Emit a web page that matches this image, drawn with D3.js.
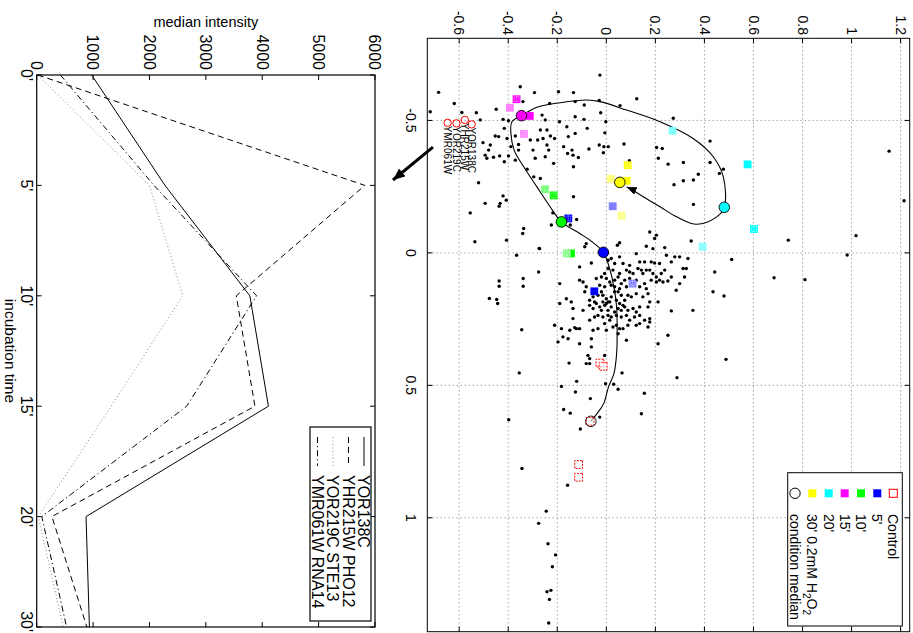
<!DOCTYPE html>
<html><head><meta charset="utf-8">
<script src="https://cdn.jsdelivr.net/npm/d3@7"></script>
<style>
body{margin:0;background:#fff;}
svg{display:block;font-family:"Liberation Sans",Arial,Helvetica,sans-serif;}
</style></head><body>
<svg id="fig" width="913" height="633"></svg>
<script>
// ---------- time-course panel ----------
const timeLabels = ["0'", "5'", "10'", "15'", "20'", "30'"];
const intensityTicks = [0, 1000, 2000, 3000, 4000, 5000, 6000];
const geneNames = ["YOR138C", "YHR215W PHO12", "YOR219C STE13", "YMR061W RNA14"];
const yor138c = [975, 2275, 3780, 4110, 875, 935];
const yhr215w = [20, 5820, 3540, 3870, 270, 890];
const yor219c = [20, 2000, 2590, 1320, 30, 470];
const ymr061w = [420, 2080, 3900, 2660, 90, 530];

// ---------- expression-space panel ----------
const scatterXTicks = [-0.5, 0, 0.5, 1];
const scatterYTicks = [-0.6, -0.4, -0.2, 0, 0.2, 0.4, 0.6, 0.8, 1, 1.2];
const conditionNames = ["Control", "5'", "10'", "15'", "20'", "30' 0.2mM H"];
const conditionColors = ["#ff0000", "#0000ff", "#00ff00", "#ff00ff", "#00ffff", "#ffff00"];
const medianX = [0.636, -0.002, -0.117, -0.518, -0.172, -0.266];
const medianY = [-0.063, -0.012, -0.183, -0.346, 0.481, 0.055];

// trajectory of the condition medians over time (Control -> 30')
const trajectoryX = [0.636, 0.607, 0.569, 0.506, 0.456, 0.380, 0.292, 0.204, 0.128, 0.065, -0.002,
  -0.048, -0.073, -0.117, -0.174, -0.249, -0.325, -0.388, -0.451, -0.495, -0.518,
  -0.550, -0.567, -0.577, -0.571, -0.539, -0.495, -0.432, -0.363, -0.287, -0.172,
  -0.136, -0.108, -0.136, -0.174, -0.212, -0.243, -0.249];
const trajectoryY = [-0.064, -0.038, -0.011, 0.009, 0.031, 0.042, 0.044, 0.042, 0.031, 0.015, -0.012,
  -0.067, -0.108, -0.183, -0.229, -0.283, -0.337, -0.376, -0.389, -0.385, -0.346,
  -0.283, -0.188, -0.080, -0.026, 0.083, 0.219, 0.354, 0.436, 0.477, 0.481,
  0.450, 0.368, 0.287, 0.219, 0.150, 0.096, 0.083];

// gene squares for each treated condition (gene order YOR138C, YHR215W, YOR219C, YMR061W)
const squareX = [
  [0.145, -0.130, -0.176, 0.116],
  [0.002, -0.217, -0.240, 0.002],
  [-0.517, -0.580, -0.548, -0.449],
  [-0.334, -0.090, -0.461, -0.023],
  [-0.272, -0.331, -0.279, -0.140]
];
const squareY = [
  [-0.049, -0.155, 0.026, 0.107],
  [-0.144, -0.215, -0.250, -0.161],
  [-0.312, -0.366, -0.393, -0.336],
  [0.576, 0.602, 0.270, 0.393],
  [0.083, 0.087, 0.018, 0.062]
];
const controlX = [0.416, 0.428, 0.636, 0.799, 0.847];
const controlY = [-0.026, -0.013, -0.066, -0.113, -0.113];

// highlighted genes
const highlightNames = ["YOR138C", "YHR215W", "YOR219C", "YMR061W"];
const highlightX = [-0.485, -0.502, -0.489, -0.491];
const highlightY = [-0.549, -0.577, -0.611, -0.647];

// all genes
const geneDots = [
[-0.105,-0.224],[-0.035,-0.082],[-0.023,-0.088],[-0.029,0.045],[-0.038,0.054],[-0.025,0.163],[-0.079,0.177],[-0.054,0.197],[-0.016,0.190],[-0.067,0.204],[-0.020,0.238],[-0.045,0.346],[-0.016,-0.272],
[0.053,-0.109],[0.038,-0.061],[0.028,0.007],[0.021,0.020],[0.040,0.034],[0.015,0.054],[0.040,0.068],[0.047,0.095],[0.003,0.122],[0.034,0.136],[0.034,0.156],[0.065,0.163],[0.034,0.183],[0.038,0.197],[0.040,0.217],[0.009,0.245],[0.034,0.265],[0.015,0.279],[0.015,0.299],[0.059,0.313],[0.021,0.333],[0.072,0.442],[0.078,-0.007],[0.059,0.007],[0.065,0.027],[0.078,0.054],[0.065,0.082],[0.072,0.095],[0.078,0.109],[0.059,0.129],[0.065,0.143],[0.078,0.149],[0.065,0.177],[0.078,0.190],[0.091,0.204],[0.078,0.224],[0.065,0.238],
[0.103,-0.109],[0.110,-0.095],[0.097,-0.041],[0.091,-0.020],[0.097,0.000],[0.110,0.014],[0.103,0.034],[0.091,0.048],[0.116,0.061],[0.103,0.075],[0.097,0.095],[0.103,0.122],[0.128,0.136],[0.116,0.156],[0.135,0.163],[0.103,0.183],[0.110,0.204],[0.103,0.217],[0.110,0.231],[0.106,0.251],[0.091,0.265],[0.141,0.285],[0.116,0.299],[0.091,0.319],[0.059,0.326],[0.116,-0.190],[0.128,-0.082],[0.122,-0.027],[0.128,-0.007],[0.122,0.020],[0.128,0.034],[0.135,0.054],[0.128,0.082],[0.122,0.109],
[0.147,-0.088],[0.179,-0.068],[0.166,-0.054],[0.160,-0.034],[0.147,-0.020],[0.160,-0.014],[0.173,0.000],[0.185,0.007],[0.166,0.020],[0.147,0.034],[0.147,0.048],[0.160,0.061],[0.179,0.075],[0.160,0.088],[0.166,0.102],[0.154,0.122],[0.166,0.149],[0.154,0.170],[0.185,0.177],[0.173,-0.163],[0.185,-0.143],[0.191,-0.190],[0.198,-0.068],[0.185,-0.048],[0.191,-0.041],[0.185,-0.014],[0.191,0.000],[0.185,0.014],[0.179,0.041],[0.191,0.054],[0.198,0.068],
[0.210,-0.136],[0.217,-0.095],[0.210,-0.054],[0.204,-0.027],[0.217,-0.020],[0.198,-0.007],[0.217,0.007],[0.204,0.020],[0.223,0.034],[0.210,0.048],[0.217,0.061],[0.204,0.075],[0.217,0.088],[0.210,0.109],[0.223,0.122],[0.204,0.136],[0.204,0.170],[0.185,0.211],[0.219,0.265],[0.217,0.353],[0.147,0.435],[0.248,-0.136],[0.242,-0.048],[0.236,-0.034],[0.242,-0.014],[0.236,0.007],[0.254,0.014],[0.242,0.020],[0.236,0.041],[0.242,0.061],[0.236,0.082],[0.254,0.095],[0.242,0.115],[0.236,0.136],[0.254,0.156],[0.248,0.177],[0.261,0.177],
[0.273,-0.211],[0.286,-0.183],[0.292,-0.149],[0.282,-0.129],[0.286,-0.122],[0.286,-0.109],[0.254,-0.068],[0.292,-0.054],[0.286,-0.034],[0.267,-0.007],[0.292,0.000],[0.280,0.027],[0.273,0.041],[0.286,0.054],[0.286,0.068],[0.273,0.088],[0.273,0.122],[0.267,0.136],[0.280,0.170],[0.324,-0.156],[0.317,-0.177],[0.324,-0.061],[0.305,0.048],[0.330,0.082],
[0.343,-0.109],[0.355,-0.061],[0.343,0.211],[0.311,0.251],[0.336,-0.197],
[0.387,-0.075],[0.399,-0.068],[0.418,-0.082],[0.418,-0.068],[0.387,-0.007],[0.416,-0.152],
[0.453,-0.355],[0.471,0.288],[0.504,-0.183],[0.485,-0.121],[0.525,-0.126],[0.550,-0.065],[0.494,-0.003],[0.496,0.030],[0.515,0.048],[0.453,0.064],[0.530,0.155],[0.607,0.143],[0.591,-0.174],[0.605,-0.147],[0.620,-0.027],[0.665,-0.106],[0.630,-0.398],[0.814,-0.344],[0.877,-0.158],[0.975,-0.245],[1.021,-0.276],[1.098,-0.238],[1.140,-0.207],[1.185,-0.220],[1.279,-0.242],[1.274,-0.226],[1.308,-0.232],[1.397,-0.235],
[0.402,0.488],[0.290,-0.345],[0.094,0.684],[0.101,0.810],[0.008,0.982],[0.025,0.511],[0.163,0.480],
[-0.042,-0.536],[-0.048,-0.407],[0.009,-0.366],[-0.017,-0.274],[-0.073,-0.341],[0.106,-0.437],[0.126,-0.437],[0.172,-0.477],[0.176,-0.447],[0.191,-0.443],[0.072,-0.276],[0.097,-0.339],[0.126,-0.339],
[-0.606,-0.684],[-0.533,-0.718],[-0.564,-0.620],[-0.530,-0.589],[-0.529,-0.530],[-0.502,-0.514],[-0.542,-0.449],[-0.504,-0.421],[-0.265,-0.521],[-0.187,-0.494],[-0.151,-0.555],[-0.176,-0.437],[-0.187,-0.433],[-0.199,-0.408],[-0.215,-0.421],[-0.416,-0.503],[-0.388,-0.480],[-0.407,-0.473],[-0.369,-0.494],[-0.357,-0.487],[-0.361,-0.460],[-0.366,-0.435],[-0.344,-0.416],[-0.441,-0.453],[-0.439,-0.439],[-0.432,-0.405],[-0.470,-0.416],[-0.499,-0.399],[-0.401,-0.389],[-0.441,-0.371],[-0.409,-0.358],[-0.388,-0.358],[-0.350,-0.371],[-0.366,-0.399],[-0.627,-0.351],[-0.571,-0.340],[-0.426,-0.310],[-0.388,-0.299],[-0.357,-0.290],[-0.605,-0.293],[-0.426,-0.280],[-0.520,-0.262],[-0.464,-0.269],[-0.432,-0.258],[-0.502,-0.249],[-0.464,-0.242],[-0.407,-0.242],[-0.441,-0.228],[-0.388,-0.235],[-0.363,-0.249],[-0.432,-0.211],[-0.338,-0.215],[-0.281,-0.269],[-0.287,-0.296],[-0.316,-0.323],[-0.564,-0.231],[-0.608,-0.195],[-0.495,-0.191],[-0.476,-0.161],[-0.439,-0.155],[-0.401,-0.174],[-0.375,-0.158],[-0.605,-0.134],[-0.451,-0.127],[-0.388,-0.140],[-0.369,-0.136],[-0.325,-0.134],[-0.571,-0.127],[-0.514,-0.127],[-0.212,-0.134],[-0.151,-0.218],[-0.111,-0.188],[-0.130,-0.161],[-0.105,-0.147],[-0.092,-0.337],
[-0.671,-0.026],[-0.558,-0.090],[-0.575,-0.029],[-0.529,-0.023],[-0.556,0.056],[-0.582,0.124],[-0.495,-0.002],[-0.453,-0.006],[-0.411,0.072],[-0.401,-0.010],[-0.401,0.008],[-0.407,-0.029],[-0.378,-0.012],[-0.392,-0.071],[-0.360,-0.114],[-0.470,-0.078],[-0.504,-0.091],[-0.348,0.094],[-0.398,0.205],[-0.394,0.228],[-0.357,0.212],[-0.508,0.273],[-0.335,0.252],[-0.341,0.314],[-0.272,0.314],[-0.257,0.276],[-0.275,0.355],[-0.297,0.375],[-0.422,0.423],[-0.341,0.423],[-0.300,0.461],[-0.316,0.477],[-0.183,0.355],[-0.048,0.742],[-0.065,1.018],[-0.384,1.153],[-0.197,1.214],[-0.126,-0.121]
];

// pointer from the highlighted genes to the time-course panel (data units of the scatter)
const pointerFrom = [-0.399, -0.707];
const pointerTo = [-0.275, -0.870];

// ---------- helpers ----------
function fmtTick(v) { return String(v); }
function pale(c) { return d3.interpolateRgb(c, "#ffffff")(0.5); }

// ---------- figure (drawn upright, then turned a quarter clockwise) ----------
const svg = d3.select("#fig");
svg.append("rect").attr("width", 913).attr("height", 633).attr("fill", "#fff");
const defs = svg.append("defs");
defs.append("marker").attr("id", "headSmall").attr("viewBox", "0 0 10 8")
  .attr("refX", 10).attr("refY", 4).attr("markerWidth", 10).attr("markerHeight", 8)
  .attr("markerUnits", "userSpaceOnUse").attr("orient", "auto")
  .append("path").attr("d", "M0,0L10,4L0,8Z").attr("fill", "#000");
defs.append("marker").attr("id", "headBig").attr("viewBox", "0 0 12 10")
  .attr("refX", 12).attr("refY", 5).attr("markerWidth", 12).attr("markerHeight", 10)
  .attr("markerUnits", "userSpaceOnUse").attr("orient", "auto")
  .append("path").attr("d", "M0,0L12,5L0,10Z").attr("fill", "#000");

const fig = svg.append("g").attr("transform", "translate(913,0) rotate(90)");

// ===== scatter panel =====
const sp = {left: 38.3, right: 631.7, top: 3.3, bottom: 485.7};
const x = d3.scaleLinear().domain([-0.81, 1.43]).range([sp.left, sp.right]);
const y = d3.scaleLinear().domain([-0.73, 1.237]).range([sp.bottom, sp.top]);

defs.append("clipPath").attr("id", "spClip").append("rect")
  .attr("x", sp.left).attr("y", sp.top).attr("width", sp.right - sp.left).attr("height", sp.bottom - sp.top);

const sg = fig.append("g");
const grid = sg.append("g").attr("stroke", "#777").attr("stroke-width", 1).attr("stroke-dasharray", "1,3");
grid.selectAll(".gx").data(scatterXTicks).join("line")
  .attr("x1", d => x(d)).attr("x2", d => x(d)).attr("y1", sp.top).attr("y2", sp.bottom);
grid.selectAll(".gy").data(scatterYTicks).join("line")
  .attr("x1", sp.left).attr("x2", sp.right).attr("y1", d => y(d)).attr("y2", d => y(d));

const plot = sg.append("g").attr("clip-path", "url(#spClip)");
plot.append("g").selectAll("circle").data(geneDots).join("circle")
  .attr("cx", d => x(d[0])).attr("cy", d => y(d[1])).attr("r", 1.7).attr("fill", "#000");

// smooth path through the trajectory, arrow at 30'
const traj = trajectoryX.map((v, i) => [v, trajectoryY[i]]);
plot.append("path")
  .attr("d", d3.line().x(d => x(d[0])).y(d => y(d[1])).curve(d3.curveCatmullRom.alpha(0.5))(traj))
  .attr("fill", "none").attr("stroke", "#000").attr("stroke-width", 1.1).attr("marker-end", "url(#headSmall)");

// control squares
const sq = 7.8;
plot.append("g").selectAll("rect").data(d3.range(controlX.length)).join("rect")
  .attr("x", i => x(controlX[i]) - sq / 2).attr("y", i => y(controlY[i]) - sq / 2)
  .attr("width", sq).attr("height", sq).attr("fill", "#fff").attr("fill-opacity", 0.6)
  .attr("stroke", "#ff0000").attr("stroke-width", 1).attr("stroke-dasharray", "2,1.2");

// treated-condition squares: solid, dotted, pale, pale dotted
const styles = [
  {pale: false, dotted: false}, {pale: false, dotted: true},
  {pale: true, dotted: false}, {pale: true, dotted: true}
];
squareX.forEach((row, ci) => {
  const col = conditionColors[ci + 1];
  row.forEach((vx, gi) => {
    const st = styles[gi];
    const cx = x(vx), cy = y(squareY[ci][gi]);
    plot.append("rect").attr("x", cx - sq / 2).attr("y", cy - sq / 2).attr("width", sq).attr("height", sq)
      .attr("fill", st.pale ? pale(col) : col);
    if (st.dotted) {
      plot.append("rect").attr("x", cx - sq / 2 + 1.5).attr("y", cy - sq / 2 + 1.5)
        .attr("width", sq - 3).attr("height", sq - 3).attr("fill", "none")
        .attr("stroke", "#fff").attr("stroke-opacity", 0.7).attr("stroke-width", 0.8).attr("stroke-dasharray", "1,1");
      plot.append("line").attr("x1", cx - sq / 2 + 1).attr("x2", cx + sq / 2 - 1).attr("y1", cy).attr("y2", cy)
        .attr("stroke", "#fff").attr("stroke-opacity", 0.7).attr("stroke-width", 0.8).attr("stroke-dasharray", "1,1");
    }
  });
});

// condition medians
plot.append("g").selectAll("circle").data(d3.range(medianX.length)).join("circle")
  .attr("cx", i => x(medianX[i])).attr("cy", i => y(medianY[i])).attr("r", 5.3)
  .attr("fill", i => i === 0 ? "none" : conditionColors[i])
  .attr("stroke", "#000").attr("stroke-width", 0.9);

// highlighted genes with their names
plot.append("g").selectAll("circle").data(d3.range(highlightX.length)).join("circle")
  .attr("cx", i => x(highlightX[i])).attr("cy", i => y(highlightY[i])).attr("r", 3.7)
  .attr("fill", "none").attr("stroke", "#ff0000").attr("stroke-width", 1);
sg.append("g").selectAll("text").data(d3.range(highlightNames.length)).join("text")
  .attr("x", i => x(highlightX[i]) + 3).attr("y", i => y(highlightY[i])).attr("dy", "0.35em")
  .attr("font-size", 10).attr("fill", "#000").text(i => highlightNames[i]);

// frame and ticks
sg.append("rect").attr("x", sp.left).attr("y", sp.top).attr("width", sp.right - sp.left)
  .attr("height", sp.bottom - sp.top).attr("fill", "none").attr("stroke", "#000").attr("stroke-width", 1);
const tk = sg.append("g").attr("stroke", "#000").attr("stroke-width", 1);
scatterXTicks.forEach(v => {
  tk.append("line").attr("x1", x(v)).attr("x2", x(v)).attr("y1", sp.bottom).attr("y2", sp.bottom - 5);
  tk.append("line").attr("x1", x(v)).attr("x2", x(v)).attr("y1", sp.top).attr("y2", sp.top + 5);
});
scatterYTicks.forEach(v => {
  tk.append("line").attr("x1", sp.left).attr("x2", sp.left + 5).attr("y1", y(v)).attr("y2", y(v));
  tk.append("line").attr("x1", sp.right).attr("x2", sp.right - 5).attr("y1", y(v)).attr("y2", y(v));
});
sg.append("g").selectAll("text").data(scatterXTicks).join("text")
  .attr("x", d => x(d)).attr("y", 507).attr("text-anchor", "middle").attr("font-size", 14)
  .text(fmtTick);
sg.append("g").selectAll("text").data(scatterYTicks).join("text")
  .attr("x", 35).attr("y", d => y(d)).attr("dy", "0.35em").attr("text-anchor", "end").attr("font-size", 14)
  .text(fmtTick);

// pointer arrow toward the time courses
sg.append("line").attr("x1", x(pointerFrom[0])).attr("y1", y(pointerFrom[1]))
  .attr("x2", x(pointerTo[0])).attr("y2", y(pointerTo[1]))
  .attr("stroke", "#000").attr("stroke-width", 3).attr("marker-end", "url(#headBig)");

// legend
const lg = {left: 472.7, right: 626, top: 10.7, bottom: 125.3, rowY: [19.7, 35.7, 52, 68.3, 84.3, 100.7, 118]};
sg.append("rect").attr("x", lg.left).attr("y", lg.top).attr("width", lg.right - lg.left)
  .attr("height", lg.bottom - lg.top).attr("fill", "#fff").attr("stroke", "#000").attr("stroke-width", 1);
conditionNames.forEach((name, i) => {
  const ry = lg.rowY[i];
  const r = sg.append("rect").attr("x", 493.3 - 4).attr("y", ry - 4).attr("width", 8).attr("height", 8);
  if (i === 0) r.attr("fill", "none").attr("stroke", "#ff0000").attr("stroke-width", 1);
  else r.attr("fill", conditionColors[i]);
  const t = sg.append("text").attr("x", 514).attr("y", ry).attr("dy", "0.35em").attr("font-size", 14).text(name);
  if (i === conditionNames.length - 1) {
    t.append("tspan").attr("font-size", 10).attr("dy", 4).text("2");
    t.append("tspan").attr("dy", -4).text("O");
    t.append("tspan").attr("font-size", 10).attr("dy", 4).text("2");
  }
});
sg.append("circle").attr("cx", 493.3).attr("cy", lg.rowY[6]).attr("r", 5.2)
  .attr("fill", "none").attr("stroke", "#000").attr("stroke-width", 1);
sg.append("text").attr("x", 514).attr("y", lg.rowY[6]).attr("dy", "0.35em").attr("font-size", 14).text("condition median");

// ===== time-course panel =====
const lp = {left: 75, right: 627, top: 538, bottom: 876.3};
const tS = d3.scaleLinear().domain([0, timeLabels.length - 1]).range([lp.left, lp.right]);
const iS = d3.scaleLinear().domain([0, 6000]).range([lp.bottom, lp.top]);
const lgp = fig.append("g");
const series = [
  {vals: yor138c, dash: null, color: "#000"},
  {vals: yhr215w, dash: "6,4", color: "#000"},
  {vals: yor219c, dash: "1,2.5", color: "#888"},
  {vals: ymr061w, dash: "6,3,1.2,3", color: "#000"}
];
const lineGen = d3.line().x((d, i) => tS(i)).y(d => iS(d));
series.forEach(s => {
  lgp.append("path").attr("d", lineGen(s.vals)).attr("fill", "none").attr("stroke", s.color)
    .attr("stroke-width", 1).attr("stroke-dasharray", s.dash);
});
lgp.append("rect").attr("x", lp.left).attr("y", lp.top).attr("width", lp.right - lp.left)
  .attr("height", lp.bottom - lp.top).attr("fill", "none").attr("stroke", "#000").attr("stroke-width", 1.2);
const ltk = lgp.append("g").attr("stroke", "#000").attr("stroke-width", 1);
timeLabels.forEach((lab, i) => {
  ltk.append("line").attr("x1", tS(i)).attr("x2", tS(i)).attr("y1", lp.bottom).attr("y2", lp.bottom - 5);
  ltk.append("line").attr("x1", tS(i)).attr("x2", tS(i)).attr("y1", lp.top).attr("y2", lp.top + 5);
});
intensityTicks.forEach(v => {
  ltk.append("line").attr("x1", lp.left).attr("x2", lp.left + 5).attr("y1", iS(v)).attr("y2", iS(v));
  ltk.append("line").attr("x1", lp.right).attr("x2", lp.right - 5).attr("y1", iS(v)).attr("y2", iS(v));
});
// last time label sits at the page edge, so it is right-aligned to stay on the page
lgp.append("g").selectAll("text").data(timeLabels).join("text")
  .attr("x", (d, i) => i === timeLabels.length - 1 ? 632 : tS(i)).attr("y", 892)
  .attr("text-anchor", (d, i) => i === timeLabels.length - 1 ? "end" : "middle")
  .attr("font-size", 16).text(d => d);
lgp.append("g").selectAll("text").data(intensityTicks).join("text")
  .attr("x", 70).attr("y", d => iS(d)).attr("dy", "0.35em").attr("text-anchor", "end").attr("font-size", 16).text(d => d);
lgp.append("text").attr("transform", `translate(27,${(lp.top + lp.bottom) / 2}) rotate(-90)`)
  .attr("text-anchor", "middle").attr("font-size", 14.5).text("median intensity");
lgp.append("text").attr("x", (lp.left + lp.right) / 2).attr("y", 908).attr("text-anchor", "middle")
  .attr("font-size", 15.5).text("incubation time");

// series legend
const ll = {left: 427, right: 621, top: 542, bottom: 603, rowY: [549, 564.5, 580, 595.5]};
lgp.append("rect").attr("x", ll.left).attr("y", ll.top).attr("width", ll.right - ll.left)
  .attr("height", ll.bottom - ll.top).attr("fill", "#fff").attr("stroke", "#000").attr("stroke-width", 1.2);
geneNames.forEach((name, i) => {
  const ry = ll.rowY[i];
  lgp.append("line").attr("x1", 437).attr("x2", 466).attr("y1", ry).attr("y2", ry)
    .attr("stroke", series[i].color).attr("stroke-width", 1).attr("stroke-dasharray", series[i].dash);
  lgp.append("text").attr("x", 475).attr("y", ry).attr("dy", "0.36em").attr("font-size", 16).text(name);
});
</script>
</body></html>
